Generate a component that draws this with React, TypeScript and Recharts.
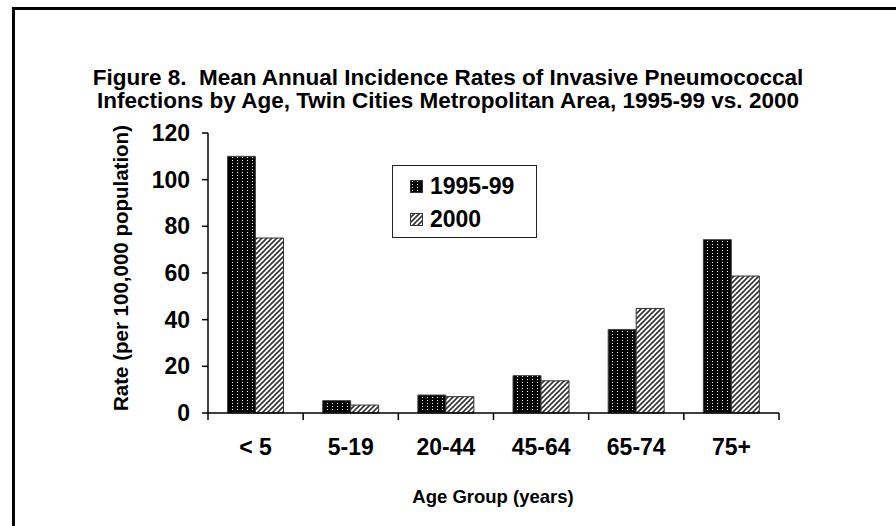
import React from "react";
import { BarChart, Bar, XAxis, YAxis } from "recharts";

const categories = ["< 5", "5-19", "20-44", "45-64", "65-74", "75+"];
const rates1995 = [110, 5.3, 7.7, 16, 35.8, 74.3];
const rates2000 = [75, 3.4, 7, 13.8, 44.8, 58.7];
const yTicks = [0, 20, 40, 60, 80, 100, 120];
const seriesNames = ["1995-99", "2000"];
const seriesFills = ["url(#dots)", "url(#hatch)"];

const data = categories.map((c, i) => ({ age: c, a: rates1995[i], b: rates2000[i] }));

const FONT = "'Liberation Sans', Arial, sans-serif";

const XTick = (props: any) => {
  const { x, y, payload, index } = props;
  const off = payload && payload.offset != null ? payload.offset : 47.6;
  return (
    <g>
      <line x1={x - off} x2={x - off} y1={y} y2={y + 7} stroke="#000" strokeWidth={1.5} />
      {index === categories.length - 1 && (
        <line x1={x + off} x2={x + off} y1={y} y2={y + 7} stroke="#000" strokeWidth={1.5} />
      )}
      <text x={x} y={y + 42} textAnchor="middle" fontFamily={FONT} fontWeight="bold" fontSize={23} fill="#000">
        {payload.value}
      </text>
    </g>
  );
};

export default function App() {
  return (
    <div style={{ position: "absolute", left: 0, top: 0, width: 896, height: 526, overflow: "hidden", background: "#fff", fontFamily: FONT }}>
      <div
        style={{
          position: "absolute",
          left: 12,
          top: 7,
          width: 1000,
          height: 1000,
          borderLeft: "3px solid #000",
          borderTop: "3px solid #000",
        }}
      />
      <div
        style={{
          position: "absolute",
          left: 0,
          width: 896,
          top: 66,
          textAlign: "center",
          fontWeight: "bold",
          fontSize: 22.5,
          lineHeight: "23px",
          color: "#000",
          whiteSpace: "nowrap",
        }}
      >
        Figure 8.&nbsp; Mean Annual Incidence Rates of Invasive Pneumococcal
        <br />
        Infections by Age, Twin Cities Metropolitan Area, 1995-99 vs. 2000
      </div>
      <div style={{ position: "absolute", left: 121, top: 268, width: 0, height: 0 }}>
        <div
          style={{
            position: "absolute",
            transform: "translate(-50%, -50%) rotate(-90deg)",
            whiteSpace: "nowrap",
            fontWeight: "bold",
            fontSize: 20.5,
            color: "#000",
          }}
        >
          Rate (per 100,000 population)
        </div>
      </div>
      <div
        style={{
          position: "absolute",
          left: 493,
          top: 497,
          transform: "translate(-50%, -50%)",
          whiteSpace: "nowrap",
          fontWeight: "bold",
          fontSize: 18.5,
          color: "#000",
        }}
      >
        Age Group (years)
      </div>
      <div style={{ position: "absolute", left: 0, top: 0 }}>
        <BarChart
          width={896}
          height={526}
          data={data}
          margin={{ top: 133, right: 117, bottom: 0, left: 0 }}
          barGap={0}
          barCategoryGap="20.5%"
        >
          <defs>
            <pattern id="dots" patternUnits="userSpaceOnUse" width={5} height={3}>
              <rect x={0} y={0} width={5} height={3} fill="#000" />
              <rect x={2} y={1} width={1} height={1} fill="#fff" />
            </pattern>
            <pattern id="hatch" patternUnits="userSpaceOnUse" width={5} height={5}>
              <rect x={0} y={0} width={5} height={5} fill="#fff" />
              <path d="M-1,1 l2,-2 M0,5 l5,-5 M4,6 l2,-2" stroke="#333" strokeWidth={1.6} />
            </pattern>
          </defs>
          <XAxis
            dataKey="age"
            height={113}
            axisLine={{ stroke: "#000", strokeWidth: 1.5 }}
            tickLine={false}
            tickSize={0}
            tickMargin={0}
            tick={<XTick />}
            interval={0}
          />
          <YAxis
            width={208}
            domain={[0, 120]}
            ticks={yTicks}
            interval={0}
            axisLine={{ stroke: "#000", strokeWidth: 1.5 }}
            tickLine={{ stroke: "#000", strokeWidth: 1.5 }}
            tickSize={6}
            tickMargin={12}
            tick={{ fontFamily: FONT, fontWeight: "bold", fontSize: 23, fill: "#000" }}
          />
          <Bar dataKey="a" name={seriesNames[0]} fill={seriesFills[0]} stroke="#444" strokeWidth={1} isAnimationActive={false} />
          <Bar dataKey="b" name={seriesNames[1]} fill={seriesFills[1]} stroke="#333" strokeWidth={1} isAnimationActive={false} />
        </BarChart>
      </div>
      <div
        style={{
          position: "absolute",
          left: 392,
          top: 165,
          width: 145,
          height: 73,
          boxSizing: "border-box",
          border: "1.5px solid #222",
          padding: "5px 0 0 17px",
          fontWeight: "bold",
          fontSize: 23,
          color: "#000",
          background: "#fff",
        }}
      >
        {seriesNames.map((n, i) => (
          <div key={n} style={{ display: "flex", alignItems: "center", height: 30, marginBottom: i === 0 ? 3 : 0 }}>
            <svg width={13} height={13} style={{ marginRight: 7 }}>
              <rect x={0.5} y={0.5} width={12} height={12} fill={seriesFills[i]} stroke="#333" strokeWidth={1} />
            </svg>
            <span>{n}</span>
          </div>
        ))}
      </div>
    </div>
  );
}
